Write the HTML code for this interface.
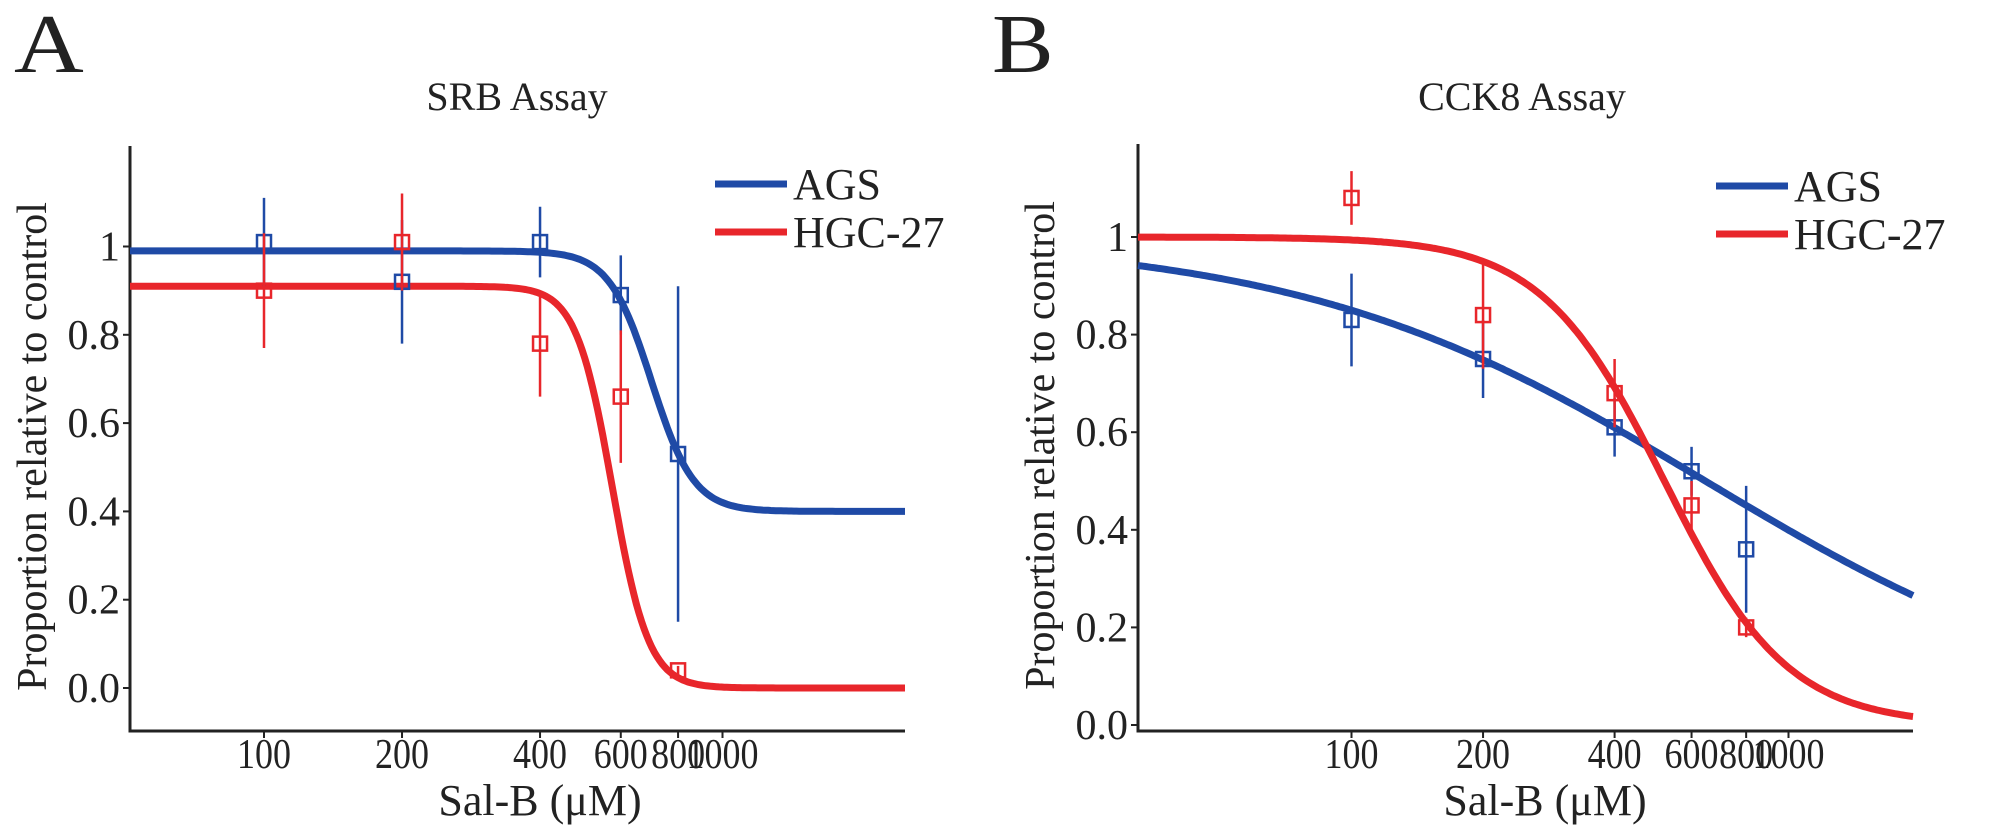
<!DOCTYPE html>
<html><head><meta charset="utf-8"><style>
html,body{margin:0;padding:0;background:#fff;}
svg{display:block;font-family:"Liberation Serif",serif;}
</style></head><body>
<svg id="fig" width="2008" height="835" viewBox="0 0 2008 835" xmlns="http://www.w3.org/2000/svg">
<text x="14" y="72" font-size="84" fill="#222" transform="translate(14,0) scale(1.15,1) translate(-14,0)">A</text>
<text x="992" y="72" font-size="84" fill="#222" transform="translate(992,0) scale(1.1,1) translate(-992,0)">B</text>
</svg>
<script>
const xTickVals = [100, 200, 400, 600, 800, 1000];
const yTickVals = [0, 0.2, 0.4, 0.6, 0.8, 1];
const yTickLabels = ["0.0", "0.2", "0.4", "0.6", "0.8", "1"];
const doses = [100, 200, 400, 600, 800];
// Panel A (SRB)
const srbAgsMean = [1.01, 0.92, 1.01, 0.89, 0.53];
const srbAgsErr = [0.10, 0.14, 0.08, 0.09, 0.38];
const srbHgcMean = [0.90, 1.01, 0.78, 0.66, 0.04];
const srbHgcErr = [0.13, 0.11, 0.12, 0.15, 0.01];
// curve params: top, bottom, ic50, hill
const srbAgsFit = [0.99, 0.40, 700, 9.4];
const srbHgcFit = [0.91, 0.0, 575, 11];
// Panel B (CCK8)
const cckAgsMean = [0.83, 0.75, 0.61, 0.52, 0.36];
const cckAgsErr = [0.095, 0.08, 0.06, 0.05, 0.13];
const cckHgcMean = [1.08, 0.84, 0.68, 0.45, 0.20];
const cckHgcErr = [0.055, 0.11, 0.07, 0.05, 0.02];
const cckAgsFit = [1.0, 0.0, 645, 0.93];
const cckHgcFit = [1.0, 0.0, 520, 3.08];

const NS = "http://www.w3.org/2000/svg";
const svg = document.getElementById("fig");
const BLUE = "#1f4aa6", RED = "#e8262b";
function mk(tag, attrs, parent) {
  const e = document.createElementNS(NS, tag);
  for (const k in attrs) e.setAttribute(k, attrs[k]);
  (parent || svg).appendChild(e);
  return e;
}
function logistic(p, x) { return p[1] + (p[0] - p[1]) / (1 + Math.pow(x / p[2], p[3])); }

function panel(cfg) {
  const g = mk("g", {});
  
  
  const X = v => cfg.x100 + cfg.dec * (Math.log10(v) - 2);
  const Y = v => cfg.y0 - cfg.ys * v;
  const xmin = Math.pow(10, 2 + (cfg.left - cfg.x100) / cfg.dec);
  const xmax = Math.pow(10, 2 + (cfg.right - cfg.x100) / cfg.dec);
  const t = mk("text", {x: cfg.titleX, y: 110, "font-size": 40, "text-anchor": "middle", fill: "#222"}, g);
  t.textContent = cfg.title;
  
  
  const ax = mk("path", {d: `M${cfg.left} ${cfg.top} L${cfg.left} ${cfg.bottom} L${cfg.right} ${cfg.bottom}`, fill: "none", stroke: "#222", "stroke-width": 3}, g);
  
  
  yTickVals.forEach((v, i) => {
    const y = Y(v);
    mk("line", {x1: cfg.left - 7, x2: cfg.left, y1: y, y2: y, stroke: "#222", "stroke-width": 2}, g);
    const tl = mk("text", {x: cfg.left - 10, y: y + 14, "font-size": 42, "text-anchor": "end", fill: "#222"}, g);
    tl.textContent = yTickLabels[i];
    
    
  });
  xTickVals.forEach(v => {
    const x = X(v);
    mk("line", {x1: x, x2: x, y1: cfg.bottom, y2: cfg.bottom + 7, stroke: "#222", "stroke-width": 2}, g);
    const lab = String(v);
    const tl = mk("text", {x: x, y: 768, "font-size": 42, "text-anchor": "middle", fill: "#222",
      textLength: lab.length * 18, lengthAdjust: "spacingAndGlyphs"}, g);
    tl.textContent = lab;
    
    
  });
  const xt = mk("text", {x: cfg.xTitleX, y: 815, "font-size": 44, "text-anchor": "middle", fill: "#222"}, g);
  xt.textContent = "Sal-B (\u03bcM)";
  
  
  const yc = (cfg.top + cfg.bottom) / 2 + 8;
  const yt = mk("text", {x: 0, y: 0, "font-size": 42, "text-anchor": "middle", fill: "#222", transform: `translate(${cfg.left - 84},${yc}) rotate(-90)`}, g);
  yt.textContent = "Proportion relative to control";
  
  
  cfg.series.forEach(s => {
    let d = "";
    const N = 300;
    for (let i = 0; i <= N; i++) {
      const lx = Math.log10(xmin) + (Math.log10(xmax) - Math.log10(xmin)) * i / N;
      const xv = Math.pow(10, lx);
      d += (i ? "L" : "M") + X(xv).toFixed(1) + " " + Y(logistic(s.fit, xv)).toFixed(1);
    }
    const c = mk("path", {d: d, fill: "none", stroke: s.color, "stroke-width": 7}, g);
    
    
  });
  cfg.series.forEach(s => {
    doses.forEach((dv, i) => {
      const x = X(dv), m = s.mean[i], e = s.err[i];
      const eb = mk("line", {x1: x, x2: x, y1: Y(m + e), y2: Y(m - e), stroke: s.color, "stroke-width": 2.5}, g);
      
      
      const r = mk("rect", {x: x - 7, y: Y(m) - 7, width: 14, height: 14, fill: "none", stroke: s.color, "stroke-width": 2.5}, g);
      
      
    });
  });
  cfg.series.forEach((s, i) => {
    const ly = cfg.legY + i * 48;
    const ll = mk("line", {x1: cfg.legX, x2: cfg.legX + 72, y1: ly, y2: ly, stroke: s.color, "stroke-width": 7}, g);
    
    
    const lt = mk("text", {x: cfg.legX + 78, y: ly + 15, "font-size": 44, fill: "#222"}, g);
    lt.textContent = s.label;
    
    
  });
}

panel({name: "srb-chart", title: "SRB Assay", titleX: 517, xTitleX: 540,
  left: 130, right: 905, top: 146, bottom: 731, x100: 264, dec: 458.5, y0: 688, ys: 441.5,
  legX: 715, legY: 184,
  series: [
    {key: "ags", label: "AGS", color: BLUE, mean: srbAgsMean, err: srbAgsErr, fit: srbAgsFit},
    {key: "hgc27", label: "HGC-27", color: RED, mean: srbHgcMean, err: srbHgcErr, fit: srbHgcFit}
  ]});
panel({name: "cck8-chart", title: "CCK8 Assay", titleX: 1522, xTitleX: 1545,
  left: 1138, right: 1913, top: 144, bottom: 731, x100: 1351.5, dec: 437, y0: 725, ys: 488,
  legX: 1716, legY: 186,
  series: [
    {key: "ags", label: "AGS", color: BLUE, mean: cckAgsMean, err: cckAgsErr, fit: cckAgsFit},
    {key: "hgc27", label: "HGC-27", color: RED, mean: cckHgcMean, err: cckHgcErr, fit: cckHgcFit}
  ]});
</script>
</body></html>
